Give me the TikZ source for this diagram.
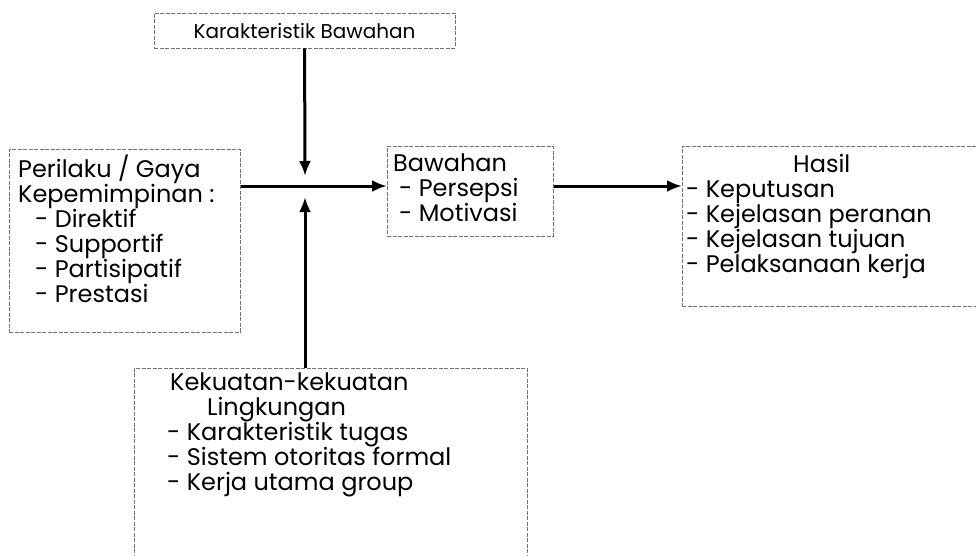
\documentclass[tikz,border=0pt]{standalone}
\usepackage{fontspec}
\usepackage{tikz}
\usetikzlibrary{arrows.meta}
\newfontfamily\gothic{Poppins}

\begin{document}
\begin{tikzpicture}[x=1pt, y=-1pt,
  kotak/.style={draw=black!55, line width=0.6pt, dash pattern=on 4pt off 1.5pt, anchor=north west, inner sep=0pt},
  teks/.style={anchor=north west, align=left, inner sep=0pt, font=\gothic\fontsize{24}{25}\selectfont},
  panah/.style={line width=3pt, -{Latex[length=15pt,width=12pt]}}]
  \clip (0,0) rectangle (976,556);
  % kotak-kotak
  \node[kotak, anchor=center, minimum width=301, minimum height=35, font=\gothic\fontsize{20}{22}\selectfont] (karbaw) at (304.5,30.5) {Karakteristik Bawahan};
  \node[kotak, minimum width=231, minimum height=183] (gaya) at (9,149) {};
  \node[kotak, minimum width=166, minimum height=90] (bawahan) at (387,146) {};
  \node[kotak, minimum width=320, minimum height=160] (hasil) at (682,146) {};
  \node[kotak, minimum width=393, minimum height=210] (lingk) at (134,368) {};
  % teks
  \node[teks] (gayateks) at (18,155) {Perilaku / Gaya\\Kepemimpinan :\\\hspace*{17pt}- Direktif\\\hspace*{17pt}- Supportif\\\hspace*{17pt}- Partisipatif\\\hspace*{17pt}- Prestasi};
  \node[teks] (bawahanteks) at (393,154) {Bawahan\\\hspace*{6pt}- Persepsi\\\hspace*{6pt}- Motivasi};
  \node[teks] (hasilteks) at (686,154) {\hspace*{107pt}Hasil\\- Keputusan\\- Kejelasan peranan\\- Kejelasan tujuan\\- Pelaksanaan kerja};
  \node[teks] (lingkteks) at (167,373) {\hspace*{3pt}Kekuatan-kekuatan\\\hspace*{40pt}Lingkungan\\- Karakteristik tugas\\- Sistem otoritas formal\\- Kerja utama group};
  % panah
  \coordinate (pusat) at (305,186);
  \draw[panah] (karbaw) -- ([yshift=10pt]pusat);
  \draw[panah] (pusat |- lingk.north) -- ([yshift=-11pt]pusat);
  \draw[panah] (gaya.east |- pusat) -- (bawahan.west |- pusat);
  \draw[panah] (bawahan.east |- pusat) -- (hasil.west |- pusat);
\end{tikzpicture}
\end{document}
